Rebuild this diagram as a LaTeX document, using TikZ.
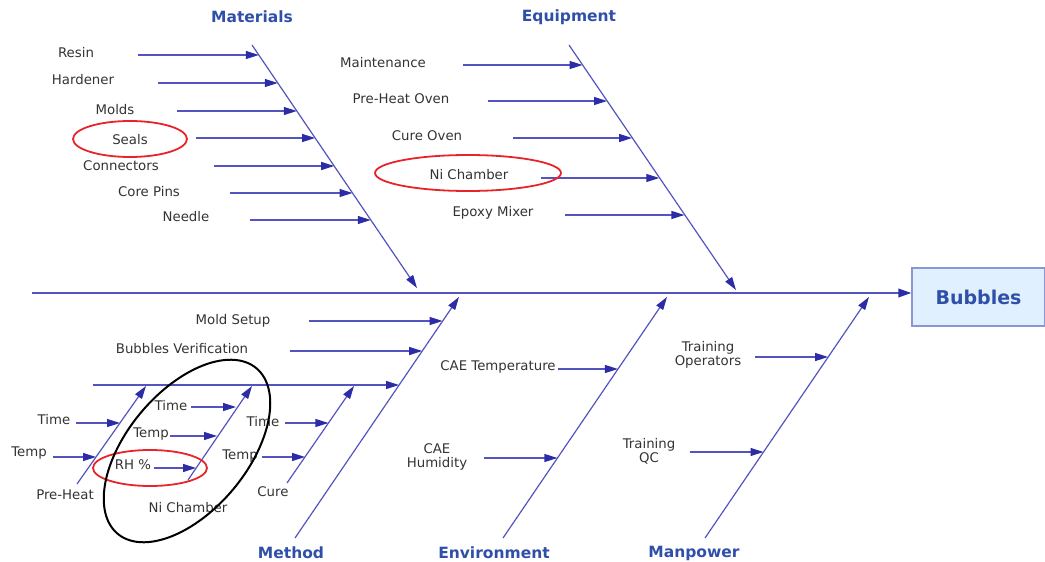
\documentclass[tikz,border=0pt]{standalone}
\usepackage{fontspec}
\setmainfont{DejaVu Sans}
\usetikzlibrary{arrows.meta}
\definecolor{bone}{HTML}{5454C0}
\definecolor{tipc}{HTML}{2C2CA6}
\definecolor{cat}{HTML}{2F4FA8}
\definecolor{txt}{HTML}{333333}
\definecolor{boxfill}{HTML}{E1F0FF}
\definecolor{boxline}{HTML}{8A96D8}
\definecolor{redring}{HTML}{E8242A}
\begin{document}
\begin{tikzpicture}[x=1pt,y=-1pt,
  bonel/.style={draw=bone, line width=1.2pt},
  arr/.style={bonel, -{Triangle[length=13pt,width=8pt,color=tipc]}},
  spine/.style={draw=bone, line width=2pt, -{Triangle[length=13pt,width=8.5pt,color=tipc]}},
  lbl/.style={text=txt, font=\fontsize{13.3}{14}\selectfont, inner sep=0pt, align=center},
  catlbl/.style={text=cat, font=\bfseries\fontsize{15.5}{17}\selectfont, inner sep=0pt},
  ring/.style={draw=redring, line width=1.8pt},
  effect/.style={draw=boxline, fill=boxfill, line width=1.2pt, minimum width=133pt, minimum height=58pt, inner sep=0pt, text=cat, font=\bfseries\fontsize{19}{21}\selectfont}
]
\useasboundingbox (0,0) rectangle (1045,562);

% effect box and spine
\node[effect] (eff) at (978.5,297) {Bubbles};
\coordinate (spineS) at (32,293);
\draw[spine] (spineS) -- (eff.west |- spineS);

% category labels
\node[catlbl] (cMat) at (252,17) {Materials};
\node[catlbl] (cEqu) at (569,17) {Equipment};
\node[catlbl] (cMet) at (291,553) {Method};
\node[catlbl] (cEnv) at (494,553) {Environment};
\node[catlbl] (cMan) at (694,553) {Manpower};

% main bones
\coordinate (matS) at (252,45);  \coordinate (matE) at (417,288);
\coordinate (equS) at (569,45);  \coordinate (equE) at (736,290);
\coordinate (metS) at (295,538); \coordinate (metE) at (459,297);
\coordinate (envS) at (503,538); \coordinate (envE) at (667,297);
\coordinate (manS) at (705,538); \coordinate (manE) at (869,297);
\draw[arr] (matS) -- (matE);
\draw[arr] (equS) -- (equE);
\draw[arr] (metS) -- (metE);
\draw[arr] (envS) -- (envE);
\draw[arr] (manS) -- (manE);

% Materials causes
\node[lbl] (resin) at (76,53) {Resin};
\node[lbl] (hard) at (83,80) {Hardener};
\node[lbl] (molds) at (115,110) {Molds};
\node[lbl] (seals) at (130,140) {Seals};
\node[lbl] (conn) at (121,166) {Connectors};
\node[lbl] (core) at (149,192) {Core Pins};
\node[lbl] (needle) at (186,217) {Needle};
\coordinate (a1s) at (138,55);  \coordinate (a1e) at (258.8,55);
\coordinate (a2s) at (158,83);  \coordinate (a2e) at (277.8,83);
\coordinate (a3s) at (177,111); \coordinate (a3e) at (296.8,111);
\coordinate (a4s) at (196,138); \coordinate (a4e) at (315.1,138);
\coordinate (a5s) at (214,166); \coordinate (a5e) at (334.2,166);
\coordinate (a6s) at (230,193); \coordinate (a6e) at (352.5,193);
\coordinate (a7s) at (250,220); \coordinate (a7e) at (370.8,220);
\foreach \i in {1,...,7}{\draw[arr] (a\i s) -- (a\i e);}
\draw[ring] (130,139) ellipse [x radius=57, y radius=18];

% Equipment causes
\node[lbl] (maint) at (383,63) {Maintenance};
\node[lbl] (pho) at (401,99) {Pre-Heat Oven};
\node[lbl] (cov) at (427,136) {Cure Oven};
\node[lbl] (nich) at (469,175) {Ni Chamber};
\node[lbl] (epm) at (493,213) {Epoxy Mixer};
\coordinate (b1s) at (463,65);  \coordinate (b1e) at (582.6,65);
\coordinate (b2s) at (488,101); \coordinate (b2e) at (607.0,101);
\coordinate (b3s) at (513,138); \coordinate (b3e) at (632.1,138);
\coordinate (b4s) at (541,178); \coordinate (b4e) at (659.3,178);
\coordinate (b5s) at (565,215); \coordinate (b5e) at (684.4,215);
\foreach \i in {1,...,5}{\draw[arr] (b\i s) -- (b\i e);}
\draw[ring] (468,173) ellipse [x radius=93, y radius=18];

% Method causes
\node[lbl] (mold) at (233,321) {Mold Setup};
\node[lbl] (bver) at (182,349) {Bubbles Verification};
\coordinate (m1s) at (309,321); \coordinate (m1e) at (442.6,321);
\coordinate (m2s) at (290,351); \coordinate (m2e) at (422.2,351);
\coordinate (m3s) at (93,385);  \coordinate (m3e) at (399.0,385);
\draw[arr] (m1s) -- (m1e);
\draw[arr] (m2s) -- (m2e);
\draw[arr] (m3s) -- (m3e);

% Method sub-bones
\coordinate (phS) at (77,484);  \coordinate (phE) at (146,386);
\coordinate (ncS) at (188,480); \coordinate (ncE) at (252,386);
\coordinate (cuS) at (287,483); \coordinate (cuE) at (354,386);
\draw[arr] (phS) -- (phE);
\draw[arr] (ncS) -- (ncE);
\draw[arr] (cuS) -- (cuE);

\node[lbl] (phTime) at (54,420) {Time};
\node[lbl] (phTemp) at (29,453) {Temp};
\node[lbl] (phLbl) at (65,495) {Pre-Heat};
\coordinate (p1s) at (76,423); \coordinate (p1e) at (120,423);
\coordinate (p2s) at (53,457); \coordinate (p2e) at (96,457);
\draw[arr] (p1s) -- (p1e);
\draw[arr] (p2s) -- (p2e);

\node[lbl] (ncTime) at (171,406) {Time};
\node[lbl] (ncTemp) at (151,434) {Temp};
\node[lbl] (ncRH) at (133,465) {RH \%};
\node[lbl] (ncLbl) at (188,508) {Ni Chamber};
\coordinate (n1s) at (191,407); \coordinate (n1e) at (236,407);
\coordinate (n2s) at (170,436); \coordinate (n2e) at (217,436);
\coordinate (n3s) at (154,468); \coordinate (n3e) at (196,468);
\draw[arr] (n1s) -- (n1e);
\draw[arr] (n2s) -- (n2e);
\draw[arr] (n3s) -- (n3e);

\node[lbl] (cuTime) at (263,422) {Time};
\node[lbl] (cuTemp) at (240,456) {Temp};
\node[lbl] (cuLbl) at (273,492) {Cure};
\coordinate (c1s) at (285,423); \coordinate (c1e) at (328.4,423);
\coordinate (c2s) at (262,457); \coordinate (c2e) at (305,457);
\draw[arr] (c1s) -- (c1e);
\draw[arr] (c2s) -- (c2e);

\draw[ring] (150,468) ellipse [x radius=57, y radius=18];
\draw[black, line width=2pt] plot[domain=0:360, samples=120, smooth]
  ({187+108*cos(\x)*cos(50)+60*sin(\x)*sin(50)},{451-108*cos(\x)*sin(50)+60*sin(\x)*cos(50)});

% Environment causes
\node[lbl] (caet) at (498,367) {CAE Temperature};
\node[lbl] (caeh) at (437,457) {CAE\\Humidity};
\coordinate (e1s) at (558,369); \coordinate (e1e) at (617.9,369);
\coordinate (e2s) at (484,458); \coordinate (e2e) at (557.4,458);
\draw[arr] (e1s) -- (e1e);
\draw[arr] (e2s) -- (e2e);

% Manpower causes
\node[lbl] (trop) at (708,355) {Training\\Operators};
\node[lbl] (trqc) at (649,451) {Training\\QC};
\coordinate (w1s) at (755,357); \coordinate (w1e) at (828.1,357);
\coordinate (w2s) at (690,452); \coordinate (w2e) at (763.5,452);
\draw[arr] (w1s) -- (w1e);
\draw[arr] (w2s) -- (w2e);
\end{tikzpicture}
\end{document}
